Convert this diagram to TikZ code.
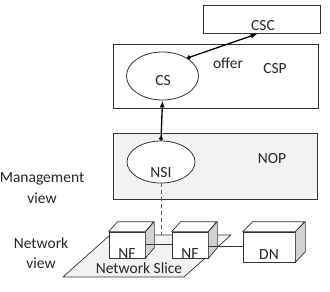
\documentclass[tikz,border=0pt]{standalone}
\usepackage{fontspec}
\setmainfont{Carlito}
\usetikzlibrary{shapes.geometric,arrows.meta}
\tikzset{
  txt/.style={draw=none, fill=none, inner sep=0pt, anchor=base, text=black!85, font=\fontsize{15.5}{18}\selectfont},
  frame/.style={draw=black!80, line width=0.8pt, rectangle, inner sep=0pt},
  role/.style={draw=black!80, line width=0.8pt, ellipse, inner sep=0pt, fill=white},
  front/.style={draw=black!80, line width=0.7pt, rectangle, inner sep=0pt, fill=white},
  face/.style={draw=black!80, line width=0.7pt, line join=round},
  link/.style={black, line width=1.3pt, {Circle[length=4pt]}-{Latex[length=7pt,width=5pt]}},
  wire/.style={black!80, line width=0.7pt},
}

\begin{document}
\begin{tikzpicture}[x=1pt, y=-1pt]
\useasboundingbox (0,0) rectangle (330,292);

% boxes of the two providers and the customer
\node[frame, minimum width=117pt, minimum height=28pt] (csc) at (261.5,19) {};
\node[frame, minimum width=205pt, minimum height=64pt] (csp) at (215.5,76) {};
\node[frame, fill=gray!10, minimum width=204pt, minimum height=66pt] (nop) at (215,166) {};

\node[role, minimum width=72pt, minimum height=48pt] (cs) at (162.5,76) {};
\node[role, minimum width=68pt, minimum height=42pt] (nsi) at (161,162) {};

\node[txt] (csc-t) at (263,30) {CSC};
\node[txt] (offer) at (228,68) {offer};
\node[txt] (csp-t) at (275,73) {CSP};
\node[txt] (cs-t) at (163,85) {CS};
\node[txt] (nop-t) at (272,163) {NOP};
\node[txt] (nsi-t) at (161,177) {NSI};

% views on the left
\node[txt] (mg1) at (42,182) {Management};
\node[txt] (mg2) at (42,203) {view};
\node[txt] (nw1) at (41,248) {Network};
\node[txt] (nw2) at (41,268) {view};

% slice plane
\coordinate (sl-a) at (63,277);
\coordinate (sl-b) at (184,277);
\coordinate (sl-c) at (231,235);
\coordinate (sl-d) at (110,235);
\draw[face, fill=gray!10] (sl-a) -- (sl-b) -- (sl-c) -- (sl-d) -- cycle;
\node[txt] (slice) at (139,273) {Network Slice};

\draw[black!65, line width=1pt, dash pattern=on 4pt off 3pt] (nsi.south) -- (nsi.south |- sl-c);

% network functions
\node[front, minimum width=36pt, minimum height=26pt] (nf1) at (127,245) {};
\draw[face, fill=white] (nf1.north west) -- ++(9,-10) -- ++(36,0) -- (nf1.north east) -- cycle;
\draw[face, fill=gray!35] (nf1.north east) -- ++(9,-10) -- ++(0,26) -- (nf1.south east) -- cycle;
\node[txt] (nf1-t) at (127,258) {NF};

\node[front, minimum width=36pt, minimum height=26pt] (nf2) at (190,245) {};
\draw[face, fill=white] (nf2.north west) -- ++(9,-10) -- ++(36,0) -- (nf2.north east) -- cycle;
\draw[face, fill=gray!35] (nf2.north east) -- ++(9,-10) -- ++(0,26) -- (nf2.south east) -- cycle;
\node[txt] (nf2-t) at (190,258) {NF};

\node[front, minimum width=52pt, minimum height=30pt] (dn) at (269,247) {};
\draw[face, fill=white] (dn.north west) -- ++(10,-10) -- ++(52,0) -- (dn.north east) -- cycle;
\draw[face, fill=gray!35] (dn.north east) -- ++(10,-10) -- ++(0,30) -- (dn.south east) -- cycle;
\node[txt] (dn-t) at (269,259) {DN};

\draw[wire] ([yshift=1pt]nf1.east) -- ([yshift=1pt]nf2.west);
\draw[wire] ([yshift=-1pt]nf2.east) -- ([yshift=-1pt]nf2.east -| dn.west);

% management relations
\draw[link] (nsi.north) -- (cs.south);
\draw[link, shorten >=1pt] (cs.36) -- ([xshift=-3pt]csc.south);
\end{tikzpicture}
\end{document}
